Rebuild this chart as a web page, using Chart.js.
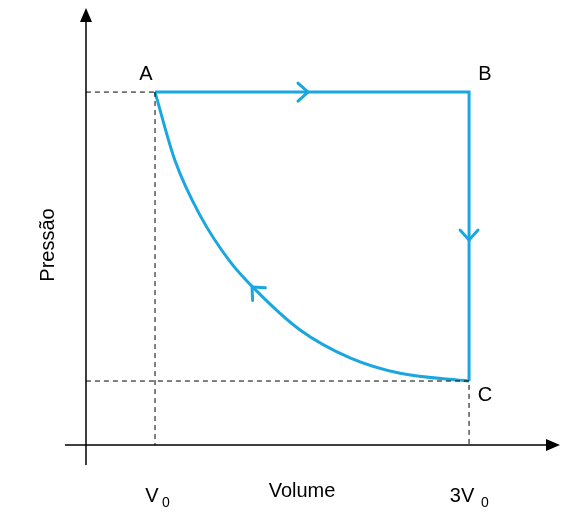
<!DOCTYPE html><html><head><script src="https://cdn.jsdelivr.net/npm/chart.js@4"></script>
<style>html,body{margin:0;background:#fff}#w{width:573px;height:520px}</style></head><body><div id="w"><canvas id="c"></canvas></div>
<script>
const pathX=[1,3,3];const pathY=[4,4,1];
const curveX=[1,1.127,1.287,1.478,1.656,1.924,2.242,2.561,3];
const curveY=[4,3.29,2.72,2.24,1.92,1.53,1.24,1.08,1];
const xTicks=[[1,'V','0',''],[3,'3V','0','']];
const pointLabels=[['A',1,4],['B',3,4],['C',3,1]];
const col='#1aa7e0';
const deco={id:'deco',afterDatasetsDraw(ch){const c=ch.ctx,x=ch.scales.x,y=ch.scales.y;const X=v=>x.getPixelForValue(v),Y=v=>y.getPixelForValue(v);
c.save();c.strokeStyle='#000';c.lineWidth=1;c.setLineDash([5,4]);
c.beginPath();c.moveTo(X(1),Y(4));c.lineTo(X(1),Y(0.335));c.moveTo(X(0.56),Y(4));c.lineTo(X(1),Y(4));
c.moveTo(X(0.56),Y(1));c.lineTo(X(3),Y(1));c.lineTo(X(3),Y(0.335));c.stroke();c.setLineDash([]);
c.lineWidth=1.5;c.beginPath();c.moveTo(86,465);c.lineTo(86,18);c.moveTo(65,445);c.lineTo(552,445);c.stroke();
c.fillStyle='#000';c.beginPath();c.moveTo(86,8);c.lineTo(80,22);c.lineTo(92,22);c.fill();
c.beginPath();c.moveTo(560,445);c.lineTo(546,439);c.lineTo(546,451);c.fill();
c.font='20px Liberation Sans, Arial';c.textAlign='center';c.textBaseline='middle';
c.fillText('A',146,74);c.fillText('B',485,74);c.fillText('C',485,395);
c.fillText('Volume',302,491);c.fillText('V',152,496);c.fillText('3V',462,496);
c.font='14px Liberation Sans, Arial';c.fillText('0',166,503);c.fillText('0',485,503);
c.save();c.font='20px Liberation Sans, Arial';c.translate(48,245);c.rotate(-Math.PI/2);c.fillText('Pressão',0,0);c.restore();
c.strokeStyle=col;c.lineWidth=3;c.lineCap='round';c.lineJoin='round';
function chev(px,py,ang){c.save();c.translate(px,py);c.rotate(ang);c.beginPath();c.moveTo(-10,-9);c.lineTo(0,0);c.lineTo(-10,9);c.stroke();c.restore();}
chev(308,Y(4),0);chev(X(3),240,Math.PI/2);chev(252,287,-2.35);
c.restore();}};
new Chart(document.getElementById('c'),{type:'scatter',data:{datasets:[
{data:pathX.map((v,i)=>({x:v,y:pathY[i]})),showLine:true,borderColor:col,borderWidth:3,pointRadius:0,tension:0},
{data:curveX.map((v,i)=>({x:v,y:curveY[i]})),showLine:true,borderColor:col,borderWidth:3,pointRadius:0,tension:0.4,cubicInterpolationMode:'monotone'}]},
options:{responsive:true,maintainAspectRatio:false,animation:false,layout:{padding:0},plugins:{legend:{display:false},tooltip:{enabled:false}},
scales:{x:{type:'linear',display:false,min:0.0127,max:3.662},y:{type:'linear',display:false,min:-0.443,max:4.956}}},plugins:[deco]});
</script></body></html>
